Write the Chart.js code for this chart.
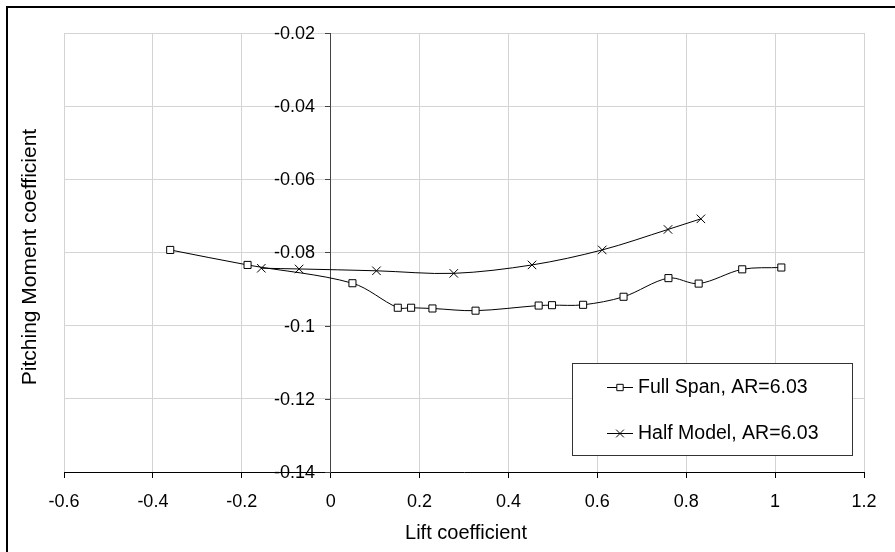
<!DOCTYPE html>
<html>
<head>
<meta charset="utf-8">
<script src="https://cdn.jsdelivr.net/npm/chart.js@4.4.0/dist/chart.umd.min.js"></script>
<style>
  html, body { margin: 0; padding: 0; background: #fff; }
  #wrap { width: 895px; height: 552px; }
</style>
</head>
<body>
<div id="wrap"><canvas id="cmChart" width="895" height="552"></canvas></div>
<script>
// Lift coefficient (x) vs pitching moment coefficient (y)
const fullSpanCL = [-0.361, -0.187, 0.049, 0.151, 0.181, 0.229, 0.326, 0.468, 0.498, 0.568, 0.659, 0.760, 0.828, 0.926, 1.014];
const fullSpanCM = [-0.0793, -0.0834, -0.0884, -0.0951, -0.0951, -0.0953, -0.0959, -0.0945, -0.0944, -0.0943, -0.0921, -0.0870, -0.0885, -0.0846, -0.0841];
const halfModelCL = [-0.156, -0.071, 0.103, 0.277, 0.453, 0.611, 0.759, 0.833];
const halfModelCM = [-0.0843, -0.0845, -0.0850, -0.0857, -0.0834, -0.0793, -0.0737, -0.0708];
const seriesNames = ['Full Span, AR=6.03', 'Half Model, AR=6.03'];

const xTickLabels = ['-0.6', '-0.4', '-0.2', '0', '0.2', '0.4', '0.6', '0.8', '1', '1.2'];
const yTickLabels = ['-0.14', '-0.12', '-0.1', '-0.08', '-0.06', '-0.04', '-0.02'];
const xTitle = 'Lift coefficient';
const yTitle = 'Pitching Moment coefficient';

const FONT = '"Liberation Sans", Arial, sans-serif';

function toPoints(xs, ys) {
    return xs.map((x, i) => ({ x: x, y: ys[i] }));
}

// frame, y axis labels at x = 0, axis titles and the boxed legend
const decorations = {
    id: 'decorations',
    beforeDraw(chart) {
        const ctx = chart.ctx;
        ctx.save();
        ctx.fillStyle = '#fff';
        ctx.fillRect(0, 0, chart.width, chart.height);
        ctx.restore();
    },
    afterDraw(chart) {
        const ctx = chart.ctx;
        const area = chart.chartArea;
        const xScale = chart.scales.x;
        const yScale = chart.scales.y;
        ctx.save();

        // outer frame
        ctx.strokeStyle = '#000';
        ctx.lineWidth = 2;
        ctx.strokeRect(7, 7, chart.width + 20, chart.height + 20);

        // y ticks and labels on the axis crossing x = 0
        const axisX = Math.round(xScale.getPixelForValue(0));
        ctx.strokeStyle = '#444';
        ctx.lineWidth = 1;
        ctx.fillStyle = '#000';
        ctx.font = '18px ' + FONT;
        ctx.textAlign = 'right';
        ctx.textBaseline = 'middle';
        yScale.ticks.forEach((t, i) => {
            const py = Math.round(yScale.getPixelForValue(t.value));
            ctx.beginPath();
            ctx.moveTo(axisX - 6, py + 0.5);
            ctx.lineTo(axisX, py + 0.5);
            ctx.stroke();
            ctx.fillText(yTickLabels[i], axisX - 16, py + 1);
        });

        // axis titles
        ctx.fillStyle = '#000';
        ctx.font = '20px ' + FONT;
        ctx.textAlign = 'center';
        ctx.textBaseline = 'middle';
        ctx.fillText(xTitle, (area.left + area.right) / 2 + 2, 533);
        ctx.save();
        ctx.translate(30, 257);
        ctx.rotate(-Math.PI / 2);
        ctx.font = '21px ' + FONT;
        ctx.fillText(yTitle, 0, 0);
        ctx.restore();

        // legend
        const lx = 572, ly = 363, lw = 280, lh = 92;
        ctx.fillStyle = '#fff';
        ctx.fillRect(lx, ly, lw, lh);
        ctx.strokeStyle = '#333';
        ctx.lineWidth = 1;
        ctx.strokeRect(lx + 0.5, ly + 0.5, lw, lh);

        const rows = [387, 433];
        chart.data.datasets.forEach((ds, i) => {
            const y = rows[i];
            ctx.strokeStyle = '#000';
            ctx.lineWidth = 1;
            ctx.beginPath();
            ctx.moveTo(607, y + 0.5);
            ctx.lineTo(633, y + 0.5);
            ctx.stroke();
            ctx.fillStyle = '#fff';
            Chart.helpers.drawPoint(ctx, {
                pointStyle: ds.pointStyle,
                radius: ds.pointRadius - 0.5,
                rotation: 0,
                borderWidth: 1
            }, 620, y + 0.5);
            ctx.fillStyle = '#000';
            ctx.font = '19.5px ' + FONT;
            ctx.textAlign = 'left';
            ctx.textBaseline = 'middle';
            ctx.fillText(ds.label, 638, y + 1);
        });
        ctx.restore();
    }
};

const ctx = document.getElementById('cmChart').getContext('2d');
new Chart(ctx, {
    type: 'line',
    data: {
        datasets: [
            {
                label: seriesNames[0],
                data: toPoints(fullSpanCL, fullSpanCM),
                borderColor: '#000',
                borderWidth: 1,
                backgroundColor: '#fff',
                pointStyle: 'rect',
                pointRadius: 5,
                pointBorderWidth: 1,
                pointBorderColor: '#000',
                pointBackgroundColor: '#fff',
                tension: 0.33,
                fill: false
            },
            {
                label: seriesNames[1],
                data: toPoints(halfModelCL, halfModelCM),
                borderColor: '#000',
                borderWidth: 1,
                backgroundColor: '#fff',
                pointStyle: 'crossRot',
                pointRadius: 6,
                pointBorderWidth: 1,
                pointBorderColor: '#000',
                pointBackgroundColor: '#fff',
                tension: 0.33,
                fill: false
            }
        ]
    },
    options: {
        responsive: false,
        animation: false,
        events: [],
        layout: {
            padding: { left: 64, right: 31, top: 33, bottom: 40 }
        },
        plugins: {
            legend: { display: false },
            tooltip: { enabled: false }
        },
        scales: {
            x: {
                type: 'linear',
                position: 'bottom',
                min: -0.6,
                max: 1.2,
                afterFit: function(scale) { scale.height = 40; },
                ticks: {
                    stepSize: 0.2,
                    autoSkip: false,
                    maxRotation: 0,
                    padding: 13,
                    color: '#000',
                    font: { family: FONT, size: 18 },
                    callback: function(value, index) { return xTickLabels[index]; }
                },
                grid: {
                    color: '#d4d4d4',
                    lineWidth: 1,
                    tickLength: 6,
                    tickColor: '#000'
                },
                border: { color: '#000', width: 1 }
            },
            y: {
                type: 'linear',
                position: { x: 0 },
                min: -0.14,
                max: -0.02,
                ticks: {
                    stepSize: 0.02,
                    display: false
                },
                grid: {
                    color: '#d4d4d4',
                    lineWidth: 1,
                    drawTicks: false
                },
                border: { color: '#444', width: 1 }
            }
        }
    },
    plugins: [decorations]
});
</script>
</body>
</html>
